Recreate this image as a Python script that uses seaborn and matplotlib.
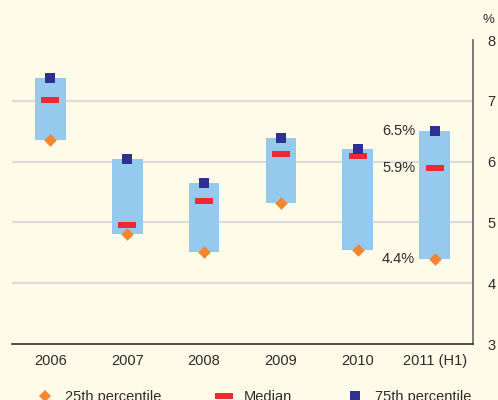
import matplotlib
matplotlib.use("Agg")
import matplotlib.pyplot as plt
import seaborn as sns
import pandas as pd
from matplotlib.lines import Line2D

# Distribution of rates by year (per cent)
years = ["2006", "2007", "2008", "2009", "2010", "2011 (H1)"]
p25 = [6.35, 4.81, 4.51, 5.32, 4.54, 4.4]
median = [7.02, 4.95, 5.35, 6.12, 6.09, 5.9]
p75 = [7.38, 6.05, 5.64, 6.39, 6.21, 6.5]
y_ticks = [3, 4, 5, 6, 7, 8]

BG = "#fffbe9"
BAR = "#95c9ee"
NAVY = "#2e3192"
RED = "#ed2a33"
ORANGE = "#f5862f"
GRID = "#dcdcdc"
TEXT = "#2b2b2b"
FS = 10.5

sns.set_style("white")
plt.rcParams["font.family"] = ["Liberation Sans", "DejaVu Sans"]
plt.rcParams["font.size"] = FS

fig = plt.figure(figsize=(4.98, 4.0), dpi=100, facecolor=BG)
ax = fig.add_axes([12 / 498, 56 / 400, 461 / 498, 304 / 400])
ax.set_facecolor(BG)

df = pd.DataFrame({"year": years, "p25": p25, "median": median, "p75": p75})
df["spread"] = df["p75"] - df["p25"]

# inter-quartile range as floating bars
sns.barplot(data=df, x="year", y="spread", order=years, bottom=df["p25"].to_numpy(),
            color=BAR, saturation=1, width=0.4, errorbar=None, linewidth=0,
            ax=ax, zorder=3)

# percentile markers
dash = [(-3, -1), (3, -1), (3, 1), (-3, 1), (-3, -1)]
sns.stripplot(data=df, x="year", y="p25", order=years, jitter=False, marker="D",
              size=6.4, color=ORANGE, linewidth=0, ax=ax, zorder=5)
sns.stripplot(data=df, x="year", y="median", order=years, jitter=False, marker=dash,
              size=13, color=RED, linewidth=0, ax=ax, zorder=5)
sns.stripplot(data=df, x="year", y="p75", order=years, jitter=False, marker="s",
              size=7.6, color=NAVY, linewidth=0, ax=ax, zorder=5)

ax.set_xlim(-0.5, len(years) - 0.5)
ax.set_ylim(y_ticks[0], y_ticks[-1])
ax.set_xlabel("")
ax.set_ylabel("")

# horizontal grid
for v in y_ticks[1:-1]:
    ax.axhline(v, color=GRID, linewidth=1.6, zorder=1)

# axes styling
for side in ["top", "left"]:
    ax.spines[side].set_visible(False)
ax.spines["bottom"].set_color("#333333")
ax.spines["bottom"].set_linewidth(1.2)
ax.spines["right"].set_color("#666666")
ax.spines["right"].set_linewidth(1.2)

ax.yaxis.tick_right()
ax.set_yticks(y_ticks)
ax.set_yticklabels([str(v) for v in y_ticks])
ax.tick_params(axis="y", length=0, pad=10.5, labelsize=FS, labelcolor=TEXT)

ax.set_xticks(range(len(years)))
ax.set_xticklabels(years)
ax.set_xticks([i - 0.5 for i in range(len(years) + 1)], minor=True)
ax.tick_params(axis="x", which="major", length=0, pad=7, labelsize=FS, labelcolor=TEXT)
ax.tick_params(axis="x", which="minor", direction="in", length=6.5, width=1,
               color="#333333")

fig.text(488 / 498, 1 - 20 / 400, "%", ha="center", va="center", fontsize=9.5,
         color=TEXT)

# value labels for the latest period
last = len(years) - 1
for val in [p75[last], median[last], p25[last]]:
    ax.annotate(f"{val:.1f}%", xy=(last, val), xytext=(-14, 0),
                textcoords="offset points", ha="right", va="center",
                fontsize=FS, color=TEXT, zorder=6)

handles = [
    Line2D([], [], linestyle="none", marker="D", markersize=6.4, color=ORANGE,
           markeredgewidth=0),
    Line2D([], [], linestyle="none", marker=dash, markersize=13, color=RED,
           markeredgewidth=0),
    Line2D([], [], linestyle="none", marker="s", markersize=7.6, color=NAVY,
           markeredgewidth=0),
]
fig.legend(handles, ["25th percentile", "Median", "75th percentile"], ncol=3,
           loc="center left", bbox_to_anchor=(37 / 498, 3 / 400), frameon=False,
           borderpad=0, borderaxespad=0, handlelength=1.15, handletextpad=0.8,
           columnspacing=3.7, fontsize=FS, labelcolor=TEXT)

fig.savefig("out.png", dpi=100, facecolor=BG)
